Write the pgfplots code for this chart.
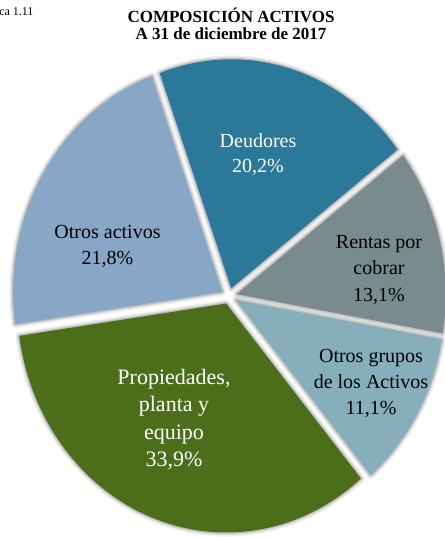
\documentclass[border=0pt]{standalone}
\usepackage{fontspec}
\setmainfont{Liberation Serif}
\usepackage{pgfplots}
\usepackage{pgfplotstable}
\pgfplotsset{compat=1.18}

\definecolor{slice0}{HTML}{2B7899}% Deudores
\definecolor{slice1}{HTML}{7A8B8D}% Rentas por cobrar
\definecolor{slice2}{HTML}{86AEBB}% Otros grupos de los Activos
\definecolor{slice3}{HTML}{4C6E1B}% Propiedades, planta y equipo
\definecolor{slice4}{HTML}{88A6C6}% Otros activos

% shares in percent, clockwise from the top
\pgfplotstableread{
value
20.2
13.1
11.1
33.9
21.8
}\piedata

% draws the five sectors with the given options
\newcommand\pieloop[1]{%
  \def\cum{110}%
  \pgfplotsforeachungrouped \i in {0,...,4}{%
    \pgfplotstablegetelem{\i}{value}\of\piedata
    \pgfmathsetmacro\sa{\cum}%
    \pgfmathsetmacro\sb{\cum-3.6*\pgfplotsretval}%
    \pgfmathsetmacro\sm{(\sa+\sb)/2}%
    \pgfmathsetmacro\ex{0.038*cos(\sm)}%
    \pgfmathsetmacro\ey{0.035*sin(\sm)}%
    \pgfmathsetmacro\sx{\ex+cos(\sa)}%
    \pgfmathsetmacro\sy{\ey+sin(\sa)}%
    \edef\cmd{\noexpand\path[#1] (axis cs:\ex,\ey) -- (axis cs:\sx,\sy)
      arc[start angle=\sa, end angle=\sb, x radius=209bp, y radius=229bp] -- cycle;}%
    \cmd
    \let\cum\sb
  }}

\begin{document}
\begin{tikzpicture}
\useasboundingbox (0,0) rectangle (445bp,537bp);
\begin{axis}[
    at={(20bp,12bp)}, anchor=south west,
    scale only axis, width=418bp, height=458bp,
    xmin=-1, xmax=1, ymin=-1, ymax=1,
    hide axis, clip=false,
]
% soft glow round each sector
\pieloop{draw=black, opacity=0.06, line width=8bp, line join=round}
\pieloop{draw=black, opacity=0.09, line width=5bp, line join=round}
\pieloop{draw=black, opacity=0.13, line width=2.5bp, line join=round}
% sectors
\pieloop{fill=slice\i}
\end{axis}

\node[font=\fontsize{12bp}{12bp}\selectfont, anchor=base east] at (37bp,521bp) {Gráfica  1.11};
\node[font=\bfseries\fontsize{17bp}{17bp}\selectfont, anchor=base] at (231bp,514bp) {COMPOSICIÓN ACTIVOS};
\node[font=\bfseries\fontsize{17bp}{17bp}\selectfont, anchor=base] at (231bp,497bp) {A 31 de diciembre  de 2017};

\node[font=\fontsize{20bp}{25bp}\selectfont, align=center, text=white] at (258bp,382.5bp) {Deudores\\20,2\%};
\node[font=\fontsize{20bp}{26.5bp}\selectfont, align=center] at (379bp,267.5bp) {Rentas por\\cobrar\\13,1\%};
\node[font=\fontsize{20bp}{26bp}\selectfont, align=center] at (371bp,154bp) {Otros grupos\\de los Activos\\11,1\%};
\node[font=\fontsize{22bp}{27.5bp}\selectfont, align=center, text=white] at (174bp,117.5bp) {Propiedades,\\planta y\\equipo\\33,9\%};
\node[font=\fontsize{20bp}{26bp}\selectfont, align=center] at (107.5bp,291bp) {Otros activos\\21,8\%};
\end{tikzpicture}
\end{document}
